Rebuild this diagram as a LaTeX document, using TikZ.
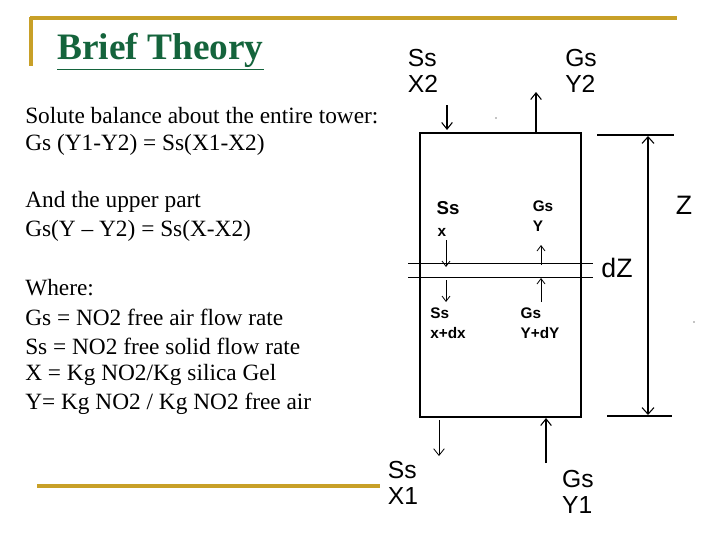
\documentclass[tikz,border=0pt]{standalone}
\usetikzlibrary{arrows.meta}
\usepackage{fontspec}
\setmainfont{Liberation Serif}
\newfontfamily\lsans{Liberation Sans}
\definecolor{gold}{RGB}{200,160,40}
\definecolor{tgreen}{RGB}{20,100,60}
\begin{document}
\begin{tikzpicture}[x=0.75pt,y=-0.75pt,
  body/.style={anchor=west,font=\fontsize{17.5}{20}\selectfont,inner sep=0},
  lab/.style={font=\lsans\fontsize{18.5}{20}\selectfont,align=left,inner sep=0},
  ilab/.style={font=\lsans\bfseries\fontsize{11.5}{15}\selectfont,align=left,inner sep=0},
  arr/.style={thick,-{Straight Barb[length=5pt,width=8pt]}},
  sarr/.style={semithick,-{Straight Barb[length=4pt,width=6pt]}}]
\useasboundingbox[fill=white] (0,0) rectangle (720,540);
\draw[gold,line width=2.5pt] (30,18) -- (677,18);
\draw[gold,line width=2.5pt] (31,17) -- (31,66);
\draw[gold,line width=2.5pt] (37,486) -- (380,486);
\node[anchor=west,inner sep=0,text=tgreen,font=\fontsize{28}{32}\selectfont\bfseries] (title) at (57,52) {\underline{Brief Theory}};
\node[body] (t1) at (25,116) {Solute balance about the entire tower:};
\node[body] (t2) at (25,145) {Gs (Y1-Y2) = Ss(X1-X2)};
\node[body] (t3) at (25,202) {And the upper part};
\node[body] (t4) at (25,231) {Gs(Y -- Y2) = Ss(X-X2)};
\node[body] (t5) at (25,288) {Where:};
\node[body] (t6) at (25,317) {Gs = NO2 free air flow rate};
\node[body] (t7) at (25,346) {Ss = NO2 free solid flow rate};
\node[body] (t8) at (25,375) {X = Kg NO2/Kg silica Gel};
\node[body] (t9) at (25,404) {Y= Kg NO2 / Kg NO2 free air};
% tower
\draw[thick] (420,133) rectangle (581,417);
\draw[semithick] (408,263) -- (593,263);
\draw[semithick] (408,277) -- (593,277);
% dimension
\draw[thick] (597,135) -- (674,135);
\draw[thick] (607,416) -- (672,416);
\coordinate (zt) at (648,136);
\coordinate (zb) at (648,415);
\draw[thick,{Straight Barb[length=5pt,width=9pt]}-{Straight Barb[length=5pt,width=9pt]}] (zt) -- (zb);
\node[font=\lsans\fontsize{20}{22}\selectfont] (Z) at (684,205) {Z};
\node[font=\lsans\fontsize{20}{22}\selectfont] (dZ) at (617,268) {dZ};
% outer labels
\node[lab] (ssx2) at (423,71) {Ss\\X2};
\node[lab] (gsy2) at (581,71) {Gs\\Y2};
\node[lab] (ssx1) at (403,483) {Ss\\X1};
\node[lab] (gsy1) at (578,492) {Gs\\Y1};
\coordinate (a1) at (447,105); \coordinate (a1e) at (447,130);
\draw[arr] (a1) -- (a1e);
\coordinate (a2) at (536,133); \coordinate (a2e) at (536,92);
\draw[arr] (a2) -- (a2e);
\coordinate (a3) at (439,420); \coordinate (a3e) at (439,456);
\draw[semithick,-{Straight Barb[length=5pt,width=8pt]}] (a3) -- (a3e);
\coordinate (a4) at (546,463); \coordinate (a4e) at (546,418);
\draw[arr] (a4) -- (a4e);
% inner labels
\node[ilab,font=\lsans\bfseries\fontsize{14}{16}\selectfont] (ssx) at (448,208) {Ss};
\node[ilab] (xx) at (442,232) {x};
\node[ilab] (gsy) at (543,216) {Gs\\Y};
\node[ilab] (ssdx) at (448,323) {Ss\\x+dx};
\node[ilab] (gsdy) at (540,323) {Gs\\Y+dY};
\coordinate (b1) at (446,240); \coordinate (b1e) at (446,267);
\draw[sarr] (b1) -- (b1e);
\coordinate (b2) at (446,280); \coordinate (b2e) at (446,302);
\draw[sarr] (b2) -- (b2e);
\coordinate (c1) at (541,265); \coordinate (c1e) at (541,245);
\draw[sarr] (c1) -- (c1e);
\coordinate (c2) at (541,302); \coordinate (c2e) at (541,278);
\draw[sarr] (c2) -- (c2e);
\fill (496,118) circle (0.6);
\fill (694,322) circle (0.6);
\end{tikzpicture}
\end{document}
